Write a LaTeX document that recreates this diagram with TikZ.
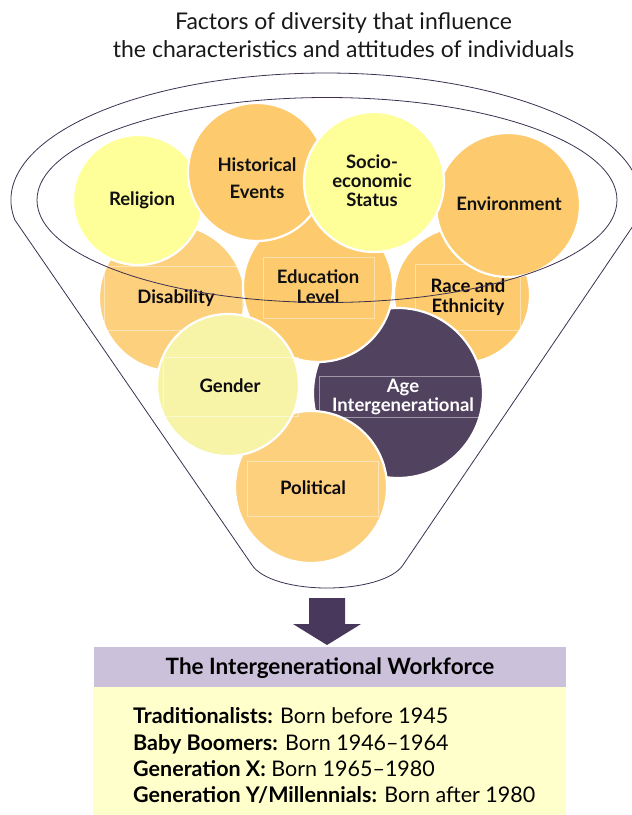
\documentclass[tikz,border=0pt]{standalone}
\usepackage{fontspec}
\setmainfont{Lato}
\definecolor{orng}{HTML}{FDCB6D}
\definecolor{orngl}{HTML}{FDD07E}
\definecolor{yell}{HTML}{FFFF99}
\definecolor{yellg}{HTML}{F7F4A8}
\definecolor{purp}{HTML}{51425F}
\definecolor{fline}{HTML}{3C2F50}
\definecolor{hdr}{HTML}{CCC1DA}
\definecolor{bodyc}{HTML}{FFFFCC}
\definecolor{arrowc}{HTML}{47385C}
\definecolor{txt}{HTML}{111111}
\tikzset{
  circ/.style={circle, draw=white, line width=2.2pt, inner sep=0pt},
  ctext/.style={font=\fontsize{18.5}{21}\selectfont\bfseries, text=txt, align=center, inner sep=0pt},
  faint/.style={draw=white, opacity=0.45, line width=0.6pt},
  fun/.style={draw=fline, line width=0.8pt},
  rowtext/.style={anchor=base west, inner sep=0pt, font=\fontsize{21.5}{24}\selectfont, text=black},
}
\begin{document}
\begin{tikzpicture}[x=1pt,y=-1pt]
\useasboundingbox (0,0) rectangle (632,815);
% title
\node[font=\fontsize{23}{26}\selectfont, text=black!90, anchor=base, inner sep=0pt] (t1) at (343.5,29) {Factors of diversity that influence};
\node[font=\fontsize{23}{26}\selectfont, text=black!90, anchor=base, inner sep=0pt] (t2) at (343.5,57) {the characteristics and attitudes of individuals};
% circles, back to front
\node[circ, fill=orngl, minimum size=146] (dis) at (172,298) {};
\draw[faint] (104,266) rectangle (242,330);
\node[circ, fill=orng, minimum size=136] (race) at (462,295) {};
\draw[faint] (415,264) rectangle (520,330);
\node[circ, fill=purp, minimum size=170] (age) at (398,393) {};
\draw[faint] (319,376) rectangle (487,417);
\node[circ, fill=orngl, minimum size=152] (pol) at (311,487) {};
\draw[faint] (247,461) rectangle (378,516);
\node[circ, fill=orng, minimum size=150] (edu) at (318,287) {};
\draw[faint] (263,257) rectangle (374,318);
\node[circ, fill=yellg, minimum size=142] (gen) at (228,385) {};
\draw[faint] (163,357) rectangle (298,416);
\node[circ, fill=yell, minimum size=130] (rel) at (138,200) {};
\node[circ, fill=orng, minimum size=138] (his) at (257,172) {};
\node[circ, fill=orng, minimum size=144] (env) at (508,205) {};
\node[circ, fill=yell, minimum size=140] (soc) at (374,182) {};
% labels
\node[ctext] (reltx) at (142,200) {Religion};
\node[ctext, font=\fontsize{18.5}{27}\selectfont\bfseries] (histx) at (257,178) {Historical\\Events};
\node[ctext, font=\fontsize{18.5}{19}\selectfont\bfseries] (soctx) at (372,181) {Socio-\\economic\\Status};
\node[ctext] (envtx) at (509,204) {Environment};
\node[ctext, font=\fontsize{18.5}{20}\selectfont\bfseries] (edutx) at (318,287) {Education\\Level};
\node[ctext, text=black!85!purp] (distx) at (176,298) {Disability};
\node[ctext, font=\fontsize{18.5}{19.5}\selectfont\bfseries, text=black!85!purp] (racetx) at (468,297) {Race and\\Ethnicity};
\node[ctext, text=black!85!purp] (gentx) at (230,386) {Gender};
\node[ctext, font=\fontsize{18.5}{18.5}\selectfont\bfseries, text=white] (agetx) at (403,397) {Age\\Intergenerational};
\node[ctext, text=black!85!purp] (poltx) at (313,488) {Political};
% funnel
\draw[fun] (327,200) ellipse [x radius=290, y radius=102.5];
\draw[fun] (14.9,220) arc (170.94:369.06:315 and 127) -- (403,565)
  .. controls (393,580) and (360,588) .. (327,588)
  .. controls (294,588) and (262,580) .. (252,565) -- cycle;
% arrow
\fill[arrowc] (309,598) -- (345,598) -- (345,624) -- (361,624) -- (327,645) -- (293,624) -- (309,624) -- cycle;
% box
\node[fill=hdr, minimum width=472, minimum height=40, inner sep=0pt, anchor=north west] (hd) at (94,647) {};
\node[fill=bodyc, minimum width=473, minimum height=128, inner sep=0pt, anchor=north west] (bd) at (93,687) {};
\node[font=\fontsize{22.5}{24}\selectfont\bfseries, anchor=base, inner sep=0pt] (hdtx) at (330,674) {The Intergenerational Workforce};
\node[rowtext] (r1) at (133,723) {\textbf{Traditionalists:} Born before 1945};
\node[rowtext] (r2) at (133,750) {\textbf{Baby Boomers:} Born 1946–1964};
\node[rowtext] (r3) at (133,776) {\textbf{Generation X:} Born 1965–1980};
\node[rowtext] (r4) at (133,802) {\textbf{Generation Y/Millennials:} Born after 1980};
\end{tikzpicture}
\end{document}
